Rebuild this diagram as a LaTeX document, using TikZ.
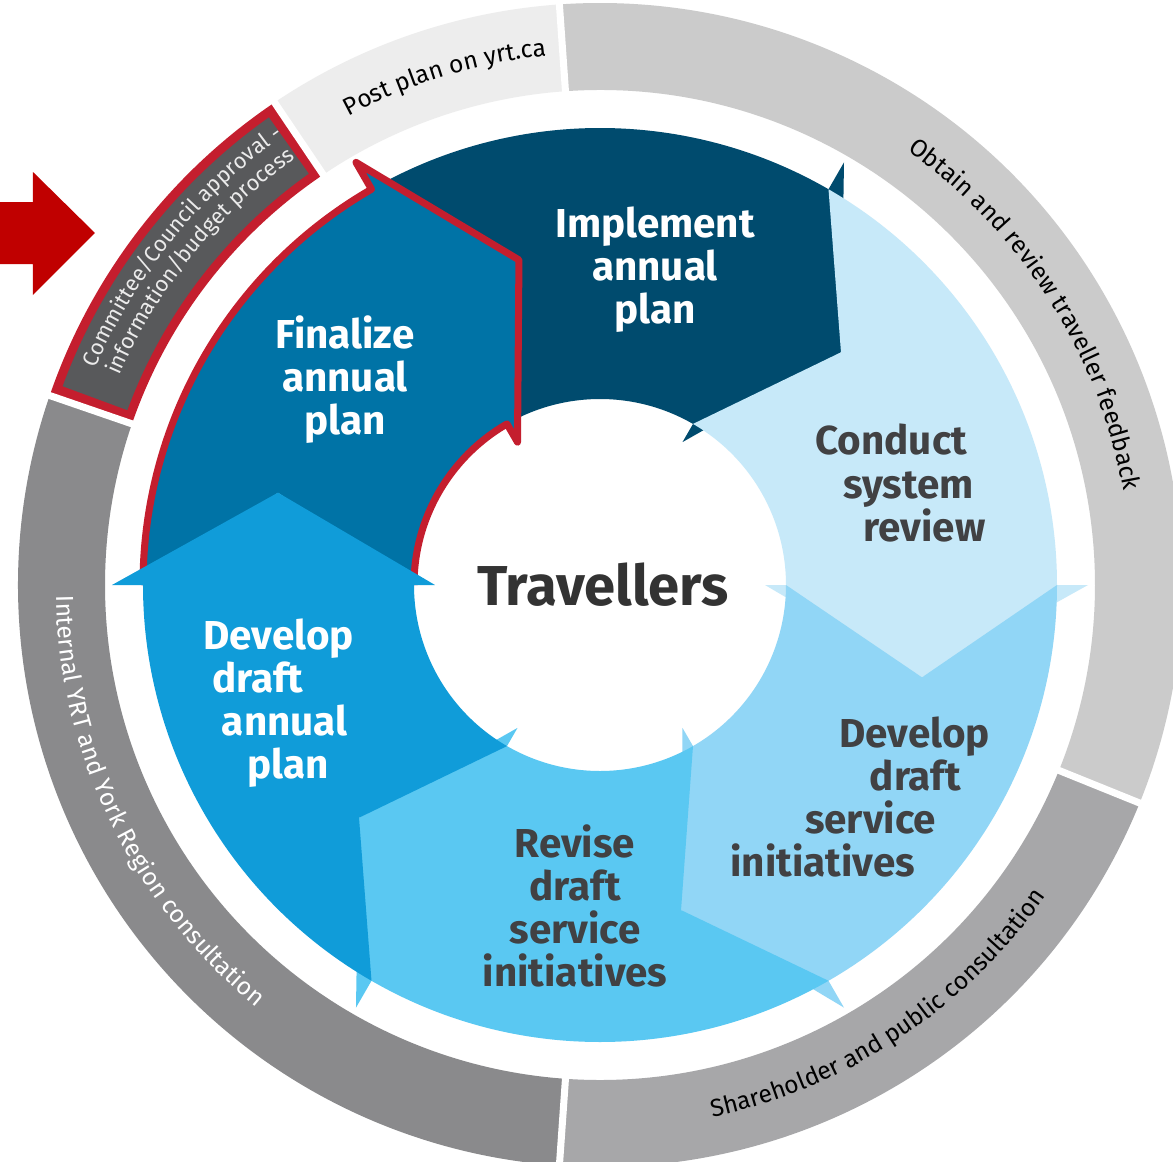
\documentclass[tikz,border=0pt]{standalone}
\usepackage{fontspec}
\setmainfont{Fira Sans}
\usetikzlibrary{decorations.text}

\definecolor{implementblue}{HTML}{004B6E}
\definecolor{finalblue}{HTML}{0073A6}
\definecolor{annualblue}{HTML}{109CD9}
\definecolor{reviseblue}{HTML}{5AC8F2}
\definecolor{serviceblue}{HTML}{91D6F6}
\definecolor{conductblue}{HTML}{C7E9F9}
\definecolor{pointred}{HTML}{C41E2E}
\definecolor{arrowred}{HTML}{C00000}
\definecolor{postgray}{HTML}{EDEDED}
\definecolor{obtaingray}{HTML}{CBCBCB}
\definecolor{sharegray}{HTML}{A7A7A9}
\definecolor{internalgray}{HTML}{8A8A8C}
\definecolor{committeegray}{HTML}{58595B}
\definecolor{labelgray}{HTML}{414143}

\newcommand\ringfont{\fontsize{14}{16}\selectfont}
\newcommand\councilfont{\fontsize{12.5}{14}\selectfont}

\begin{document}
\begin{tikzpicture}
   [
    x=0.02cm, y=0.02cm,
    gap/.style={draw=white, line width=4pt},
    ringtext/.style={decorate, decoration={text along path, text align=center}},
    stage/.style={font=\fontsize{23}{24.5}\selectfont\bfseries, inner sep=0pt, align=center},
    dark/.style={stage, text=white},
    light/.style={stage, text=labelgray},
    redline/.style={draw=pointred, line width=4pt, line join=round}
   ]

\useasboundingbox (-600,-576) rectangle (573,585);
\clip (-600,-576) rectangle (573,585);
\fill[white] (-600,-576) rectangle (573,585);

% outer ring
\foreach \a/\b/\c in {-22/94/obtaingray, 94/124/postgray, 124/161/pointred,
                      161/266/internalgray, 266/338/sharegray}
  \fill[\c] (\a:582) arc[start angle=\a, end angle=\b, radius=582]
            -- (\b:495) arc[start angle=\b, end angle=\a, radius=495] -- cycle;
\fill[committeegray] (125.3:573) arc[start angle=125.3, end angle=159.7, radius=573]
            -- (159.7:504) arc[start angle=159.7, end angle=125.3, radius=504] -- cycle;
\foreach \g in {94,124,161,266,338}
  \draw[gap] (\g:480) -- (\g:600);

% ring labels
\path[ringtext, decoration={text={|\ringfont\color{black}|Post plan on yrt.ca}}]
  (122:532) arc[start angle=122, end angle=92, radius=532];
\path[ringtext, decoration={text={|\ringfont\color{black}|Obtain and review traveller feedback}}]
  (70:532) arc[start angle=70, end angle=-5, radius=532];
\path[ringtext, decoration={text={|\ringfont\color{black}|Shareholder and public consultation}}]
  (-90:544) arc[start angle=-90, end angle=-23, radius=544];
\path[ringtext, decoration={text={|\ringfont\color{white}|Internal YRT and York Region consultation}}]
  (165:544) arc[start angle=165, end angle=247, radius=544];
\path[ringtext, decoration={text={|\councilfont\color{black!8}|Committee/Council approval -}}]
  (165:549) arc[start angle=165, end angle=117, radius=549];
\path[ringtext, decoration={text={|\councilfont\color{black!8}|information/budget process}}]
  (165:524) arc[start angle=165, end angle=117, radius=524];

% cycle arrows
\foreach \a/\c in {60/implementblue, 0/conductblue, -60/serviceblue, -120/reviseblue, 120/finalblue}
  \fill[\c] ({\a+60}:457) arc[start angle=\a+60, end angle=\a, radius=457]
     -- (\a:488) -- ({\a-16}:335) -- (\a:165) -- (\a:186)
     arc[start angle=\a, end angle=\a+60, radius=186]
     -- ({\a+44}:335) -- cycle;
\draw[redline] (180:457) arc[start angle=180, end angle=120, radius=457]
     -- (120:488) -- (104:335) -- (120:165) -- (120:186)
     arc[start angle=120, end angle=180, radius=186];
\fill[annualblue] (240:457) arc[start angle=240, end angle=180, radius=457]
     -- (180:488) -- (164:335) -- (180:165) -- (180:186)
     arc[start angle=180, end angle=240, radius=186]
     -- (224:335) -- cycle;

% stage labels
\node[dark] (implement) at (55,315) {Implement\\annual\\plan};
\node[dark] (finalize) at (-255,205) {Finalize\\annual\\plan};
\node[light, align=left, anchor=west] (conduct) at (215,102)
  {Conduct\\\hspace*{0.7em}system\\\hspace*{1.2em}review};
\node[light, align=left, anchor=west] (service) at (130,-212)
  {\hspace*{2.7em}Develop\\\hspace*{3.45em}draft\\\hspace*{1.85em}service\\initiatives};
\node[light] (revise) at (-25,-321) {Revise\\draft\\service\\initiatives};
\node[dark, align=left, anchor=west] (annual) at (-397,-118)
  {Develop\\\hspace*{0.22em}draft\\\hspace*{0.46em}annual\\\hspace*{1.1em}plan};
\node[font=\fontsize{32}{34}\selectfont\bfseries, text=black!80] (travellers) at (3,0) {Travellers};

% pointer
\fill[arrowred] (-610,383) -- (-567,383) -- (-567,413) -- (-505,352)
     -- (-567,290) -- (-567,321) -- (-610,321) -- cycle;

\end{tikzpicture}
\end{document}
